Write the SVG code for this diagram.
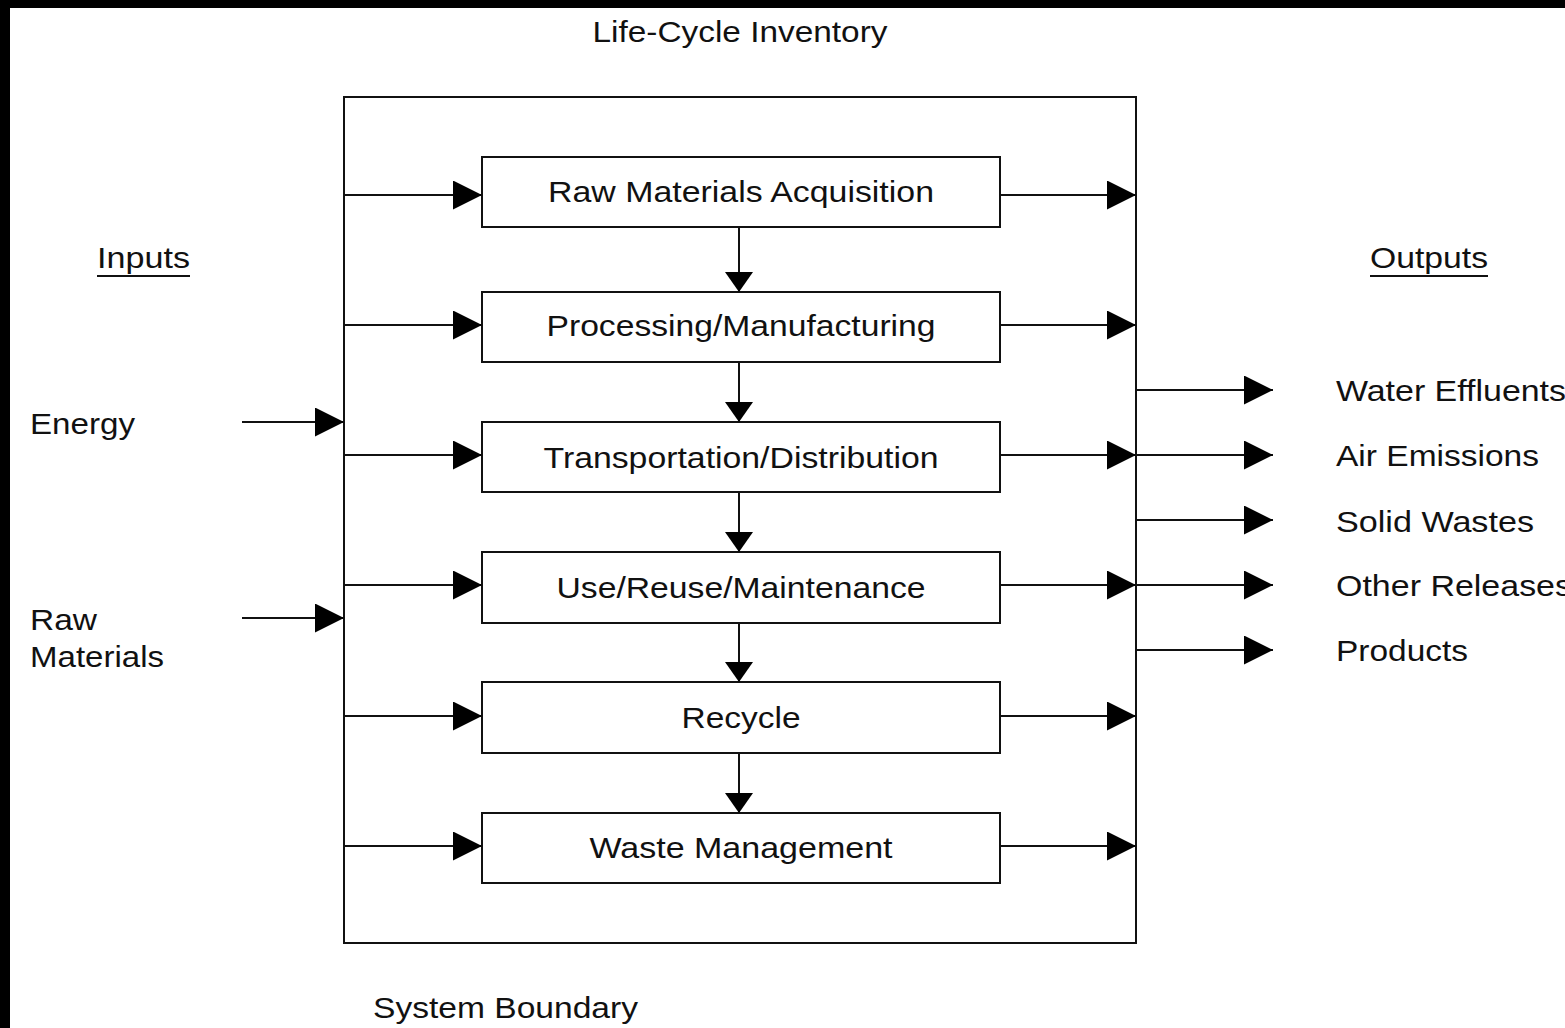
<svg xmlns="http://www.w3.org/2000/svg" width="1565" height="1028" viewBox="0 0 1565 1028">
<style>
.t{font-family:"Liberation Sans",Arial,sans-serif;font-size:30px;fill:#111}
.c{text-anchor:middle}
.box{fill:#fff;stroke:#111;stroke-width:2}
.ln{stroke:#111;stroke-width:2;fill:none}
</style>
<defs>
<marker id="ah" markerUnits="userSpaceOnUse" markerWidth="29" markerHeight="29" refX="29" refY="14.5" orient="auto" viewBox="0 0 29 29"><path d="M0,0 L29,14.5 L0,29 z" fill="#000"/></marker>
<marker id="av" markerUnits="userSpaceOnUse" markerWidth="20" markerHeight="28" refX="20" refY="14" orient="auto" viewBox="0 0 20 28"><path d="M0,0 L20,14 L0,28 z" fill="#000"/></marker>
</defs>
<rect x="0" y="0" width="1565" height="1028" fill="#fff"/>
<rect x="0" y="0" width="1565" height="8" fill="#000"/>
<rect x="0" y="0" width="10" height="1028" fill="#000"/>
<g id="boundary"><rect x="344" y="97" width="792" height="846" class="box" fill="none"/></g>
<text class="t c" x="740" y="42" textLength="295" lengthAdjust="spacingAndGlyphs">Life-Cycle Inventory</text>
<g id="inputs-label"><text class="t" x="97" y="268" textLength="93" lengthAdjust="spacingAndGlyphs">Inputs</text><line x1="97" y1="276" x2="190" y2="276" class="ln"/></g>
<g id="outputs-label"><text class="t" x="1370" y="268" textLength="118" lengthAdjust="spacingAndGlyphs">Outputs</text><line x1="1370" y1="276" x2="1488" y2="276" class="ln"/></g>
<g id="energy"><text class="t" x="30" y="434" textLength="105" lengthAdjust="spacingAndGlyphs">Energy</text></g>
<g id="raw-materials"><text class="t" x="30" y="630" textLength="67" lengthAdjust="spacingAndGlyphs">Raw</text><text class="t" x="30" y="667" textLength="134" lengthAdjust="spacingAndGlyphs">Materials</text></g>
<g id="n1"><rect x="482" y="157" width="518" height="70" class="box"/><text class="t c" x="741" y="202" textLength="386" lengthAdjust="spacingAndGlyphs">Raw Materials Acquisition</text></g>
<g id="n2"><rect x="482" y="292" width="518" height="70" class="box"/><text class="t c" x="741" y="336" textLength="389" lengthAdjust="spacingAndGlyphs">Processing/Manufacturing</text></g>
<g id="n3"><rect x="482" y="422" width="518" height="70" class="box"/><text class="t c" x="741" y="468" textLength="395" lengthAdjust="spacingAndGlyphs">Transportation/Distribution</text></g>
<g id="n4"><rect x="482" y="552" width="518" height="71" class="box"/><text class="t c" x="741" y="598" textLength="369" lengthAdjust="spacingAndGlyphs">Use/Reuse/Maintenance</text></g>
<g id="n5"><rect x="482" y="682" width="518" height="71" class="box"/><text class="t c" x="741" y="728" textLength="119" lengthAdjust="spacingAndGlyphs">Recycle</text></g>
<g id="n6"><rect x="482" y="813" width="518" height="70" class="box"/><text class="t c" x="741" y="858" textLength="303" lengthAdjust="spacingAndGlyphs">Waste Management</text></g>
<g id="out-water"><text class="t" x="1336" y="401" textLength="230" lengthAdjust="spacingAndGlyphs">Water Effluents</text></g>
<g id="out-air"><text class="t" x="1336" y="466" textLength="203" lengthAdjust="spacingAndGlyphs">Air Emissions</text></g>
<g id="out-solid"><text class="t" x="1336" y="532" textLength="198" lengthAdjust="spacingAndGlyphs">Solid Wastes</text></g>
<g id="out-other"><text class="t" x="1336" y="596" textLength="236" lengthAdjust="spacingAndGlyphs">Other Releases</text></g>
<g id="out-products"><text class="t" x="1336" y="661" textLength="132" lengthAdjust="spacingAndGlyphs">Products</text></g>
<text class="t" x="373" y="1018" textLength="265" lengthAdjust="spacingAndGlyphs">System Boundary</text>
<g id="connectors" class="ln">
<line x1="242" y1="422" x2="344" y2="422" marker-end="url(#ah)"/>
<line x1="242" y1="618" x2="344" y2="618" marker-end="url(#ah)"/>
<line x1="344" y1="195" x2="482" y2="195" marker-end="url(#ah)"/>
<line x1="344" y1="325" x2="482" y2="325" marker-end="url(#ah)"/>
<line x1="344" y1="455" x2="482" y2="455" marker-end="url(#ah)"/>
<line x1="344" y1="585" x2="482" y2="585" marker-end="url(#ah)"/>
<line x1="344" y1="716" x2="482" y2="716" marker-end="url(#ah)"/>
<line x1="344" y1="846" x2="482" y2="846" marker-end="url(#ah)"/>
<line x1="1000" y1="195" x2="1136" y2="195" marker-end="url(#ah)"/>
<line x1="1000" y1="325" x2="1136" y2="325" marker-end="url(#ah)"/>
<line x1="1000" y1="455" x2="1136" y2="455" marker-end="url(#ah)"/>
<line x1="1000" y1="585" x2="1136" y2="585" marker-end="url(#ah)"/>
<line x1="1000" y1="716" x2="1136" y2="716" marker-end="url(#ah)"/>
<line x1="1000" y1="846" x2="1136" y2="846" marker-end="url(#ah)"/>
<line x1="739" y1="227" x2="739" y2="292" marker-end="url(#av)"/>
<line x1="739" y1="362" x2="739" y2="422" marker-end="url(#av)"/>
<line x1="739" y1="492" x2="739" y2="552" marker-end="url(#av)"/>
<line x1="739" y1="623" x2="739" y2="682" marker-end="url(#av)"/>
<line x1="739" y1="753" x2="739" y2="813" marker-end="url(#av)"/>
<line x1="1136" y1="390" x2="1273" y2="390" marker-end="url(#ah)"/>
<line x1="1136" y1="455" x2="1273" y2="455" marker-end="url(#ah)"/>
<line x1="1136" y1="520" x2="1273" y2="520" marker-end="url(#ah)"/>
<line x1="1136" y1="585" x2="1273" y2="585" marker-end="url(#ah)"/>
<line x1="1136" y1="650" x2="1273" y2="650" marker-end="url(#ah)"/>
</g>
</svg>
